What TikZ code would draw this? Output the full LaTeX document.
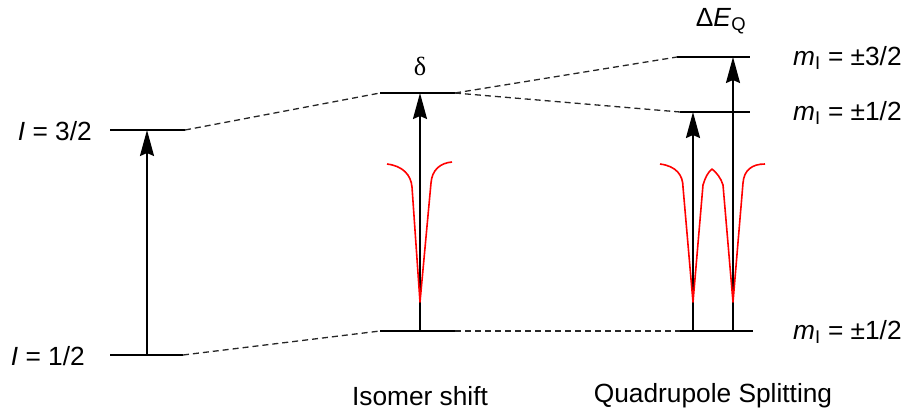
\documentclass[tikz,border=0pt]{standalone}
\usepackage{fontspec}
\setmainfont{Liberation Sans}
\newfontfamily\symbfont{Liberation Serif}
\usetikzlibrary{arrows.meta}
\tikzset{
  level/.style={line width=2.2pt, black},
  conn/.style={line width=1.3pt, dash pattern=on 6pt off 4pt, black!85},
  trans/.style={line width=2pt, -{Stealth[length=26pt,width=14pt,inset=3pt]}},
  peak/.style={line width=1.6pt, red, line join=round},
  lbl/.style={font=\fontsize{26.3}{31}\selectfont, inner sep=0pt},
}
\begin{document}
\begin{tikzpicture}[x=1pt,y=-1pt]
\useasboundingbox (0,0) rectangle (903,410);
% left levels
\coordinate (a1l) at (110,130); \coordinate (a1r) at (185,130);
\coordinate (a0l) at (110,355); \coordinate (a0r) at (183,355);
\coordinate (aT) at (147,130); \coordinate (aB) at (147,355);
% middle levels
\coordinate (b1l) at (380,93); \coordinate (b1r) at (455,93);
\coordinate (b0l) at (380,331); \coordinate (b0r) at (455,331);
\coordinate (bT) at (420,93); \coordinate (bB) at (420,331);
% right levels
\coordinate (c3l) at (677,57); \coordinate (c3r) at (750,57);
\coordinate (c1l) at (680,112); \coordinate (c1r) at (750,112);
\coordinate (c0l) at (680,331); \coordinate (c0r) at (753,331);
\coordinate (cT1) at (693,112); \coordinate (cB1) at (693,331);
\coordinate (cT2) at (733,57); \coordinate (cB2) at (733,331);

\draw[level] (a1l) -- (a1r);
\draw[level] (a0l) -- (a0r);
\draw[level] (b1l) -- (b1r);
\draw[level] (b0l) -- (b0r);
\draw[level] (c3l) -- (c3r);
\draw[level] (c1l) -- (c1r);
\draw[level] (c0l) -- (c0r);

\draw[conn] (a1r) -- (b1l);
\draw[conn] (a0r) -- (b0l);
\draw[conn] (b1r) -- (c3l);
\draw[conn] (b1r) -- (c1l);
\draw[conn] (b0r) -- (c0l);

\draw[trans] (aB) -- (aT);
\draw[trans] (bB) -- (bT);
\draw[trans] (cB1) -- (cT1);
\draw[trans] (cB2) -- (cT2);

% red absorption lines
\draw[peak] (387,164) .. controls (403,166) and (411,175) .. (412,187)
  -- (420,302) -- (431,183) .. controls (432,170) and (440,163) .. (452,162);
\draw[peak] (660,164) .. controls (676,166) and (683,175) .. (683,187)
  -- (693,302) -- (703,185) .. controls (705,178) and (708,172) .. (712,169)
  .. controls (716,172) and (721,178) .. (723,185)
  -- (733,302) -- (743,183) .. controls (744,170) and (752,164) .. (765,164);

% labels
\node[lbl, anchor=east] (l32) at (92,131) {\textit{I} = 3/2};
\node[lbl, anchor=east] (l12) at (85,356) {\textit{I} = 1/2};
\node[lbl] (delta) at (420,66) {\symbfont δ};
\node[lbl] (dEQ) at (721,21) {Δ\textit{E}\textsubscript{Q}};
\node[lbl, anchor=west] (m3) at (793,58) {\textit{m}\textsubscript{I} = ±3/2};
\node[lbl, anchor=west] (m1) at (793,113) {\textit{m}\textsubscript{I} = ±1/2};
\node[lbl, anchor=west] (m0) at (793,332) {\textit{m}\textsubscript{I} = ±1/2};
\node[lbl] (iso) at (420,396) {Isomer shift};
\node[lbl] (quad) at (713,396) {Quadrupole Splitting};
\end{tikzpicture}
\end{document}
